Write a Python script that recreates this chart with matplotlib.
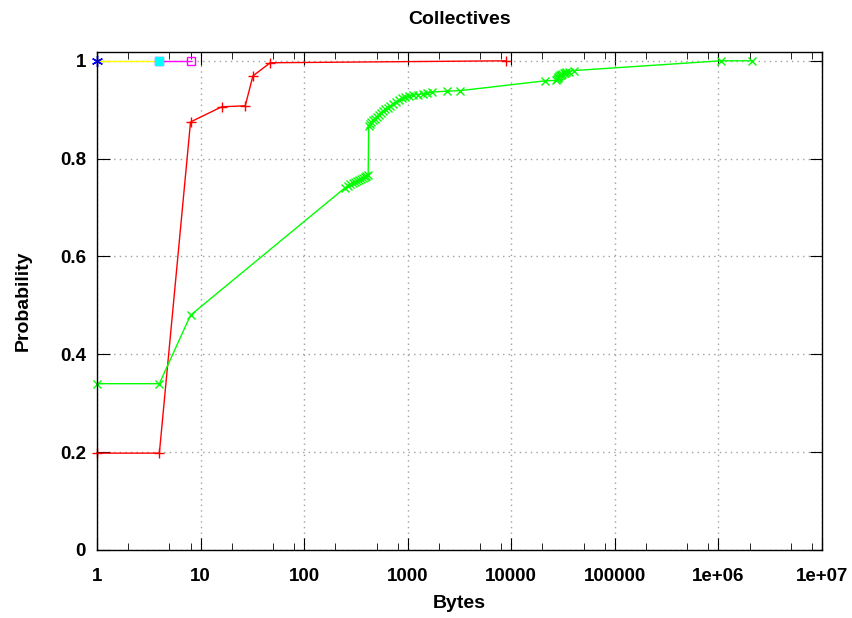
import matplotlib
matplotlib.use("Agg")
import matplotlib.pyplot as plt
from matplotlib.ticker import FixedLocator, NullFormatter

plt.rcParams['font.family'] = ['Liberation Sans', 'DejaVu Sans']
plt.rcParams['font.weight'] = 'bold'

# CDF of message sizes per collective
red_x = [1, 4, 8, 16, 27, 32, 47, 8900]
red_y = [0.198, 0.198, 0.875, 0.906, 0.908, 0.969, 0.996, 1.0]

green_x = [1, 4, 8,
           250, 265, 280, 295, 310, 325, 340, 355, 370, 385, 400, 415,
           420, 430, 445, 460, 480, 500, 525, 550, 580, 610, 640, 680,
           720, 770, 820, 880, 950, 1030, 1120, 1250, 1400, 1550, 1700,
           2400, 3200, 21000,
           27000, 27500, 28000, 28500, 29000, 29500, 30000, 31000, 32000,
           33000, 34000, 36000, 40000, 1050000, 2100000]
green_y = [0.34, 0.34, 0.48,
           0.741, 0.745, 0.748, 0.750, 0.752, 0.754, 0.756, 0.758, 0.760,
           0.762, 0.764, 0.766,
           0.866, 0.870, 0.874, 0.878, 0.882, 0.886, 0.890, 0.894, 0.898,
           0.901, 0.904, 0.908, 0.912, 0.916, 0.920, 0.923, 0.926, 0.928,
           0.930, 0.931, 0.933, 0.934, 0.936,
           0.938, 0.939, 0.959,
           0.960, 0.962, 0.964, 0.966, 0.968, 0.970, 0.972, 0.974, 0.975,
           0.976, 0.977, 0.978, 0.980, 1.0, 1.0]

blue_x, blue_y = [1], [1.0]
yellow_x, yellow_y = [1, 4], [1.0, 1.0]
cyan_x, cyan_y = [4], [1.0]
magenta_x, magenta_y = [4, 8], [1.0, 1.0]

x_ticks = [1, 10, 100, 1000, 10000, 100000, 1e6, 1e7]
x_labels = ["1", "10", "100", "1000", "10000", "100000", "1e+06", "1e+07"]
y_ticks = [0, 0.2, 0.4, 0.6, 0.8, 1.0]
y_labels = ["0", "0.2", "0.4", "0.6", "0.8", "1"]

fig = plt.figure(figsize=(8.52, 6.18), dpi=100)
ax = fig.add_axes([97 / 852, 1 - 550 / 618, 725 / 852, 498 / 618])

ax.plot(red_x, red_y, color='#ff0000', lw=1, marker='+', ms=7, mew=1,
        clip_on=False)
ax.plot(green_x, green_y, color='#00ff00', lw=1, marker='x', ms=6, mew=1,
        clip_on=False)
ax.plot(yellow_x, yellow_y, color='#ffff00', lw=1, clip_on=False)
ax.plot(magenta_x, magenta_y, color='#ff00ff', lw=1, marker='s', ms=6,
        mfc='none', mew=1, clip_on=False)
ax.plot(cyan_x, cyan_y, color='#00ffff', lw=0, marker='s', ms=6,
        clip_on=False)
ax.plot(blue_x, blue_y, color='#0000ff', lw=0, marker=(6, 2, 0), ms=8,
        mew=1, clip_on=False)

ax.set_xscale('log')
ax.set_xlim(1, 1e7)
ax.set_ylim(0, 1.018)
ax.set_xticks(x_ticks)
ax.set_xticklabels(x_labels)
minors = [m * 10 ** e for e in range(7) for m in (2, 5, 8)]
ax.xaxis.set_minor_locator(FixedLocator(minors))
ax.xaxis.set_minor_formatter(NullFormatter())
ax.set_yticks(y_ticks)
ax.set_yticklabels(y_labels)

ax.tick_params(which='both', direction='in', top=True, right=True,
               labelsize=13.5)
ax.tick_params(axis='x', pad=13)
ax.tick_params(axis='y', pad=8)
ax.tick_params(which='major', length=9)
ax.tick_params(which='minor', length=5)
ax.grid(True, which='major', color='#a0a0a0', linestyle=(0, (1, 3)), lw=1)
for s in ax.spines.values():
    s.set_linewidth(1)

ax.set_title("Collectives", fontsize=14, fontweight='bold', pad=20)
ax.set_xlabel("Bytes", fontsize=14, fontweight='bold', labelpad=7)
ax.set_ylabel("Probability", fontsize=14, fontweight='bold', labelpad=20)

fig.savefig("out.png", dpi=100)
